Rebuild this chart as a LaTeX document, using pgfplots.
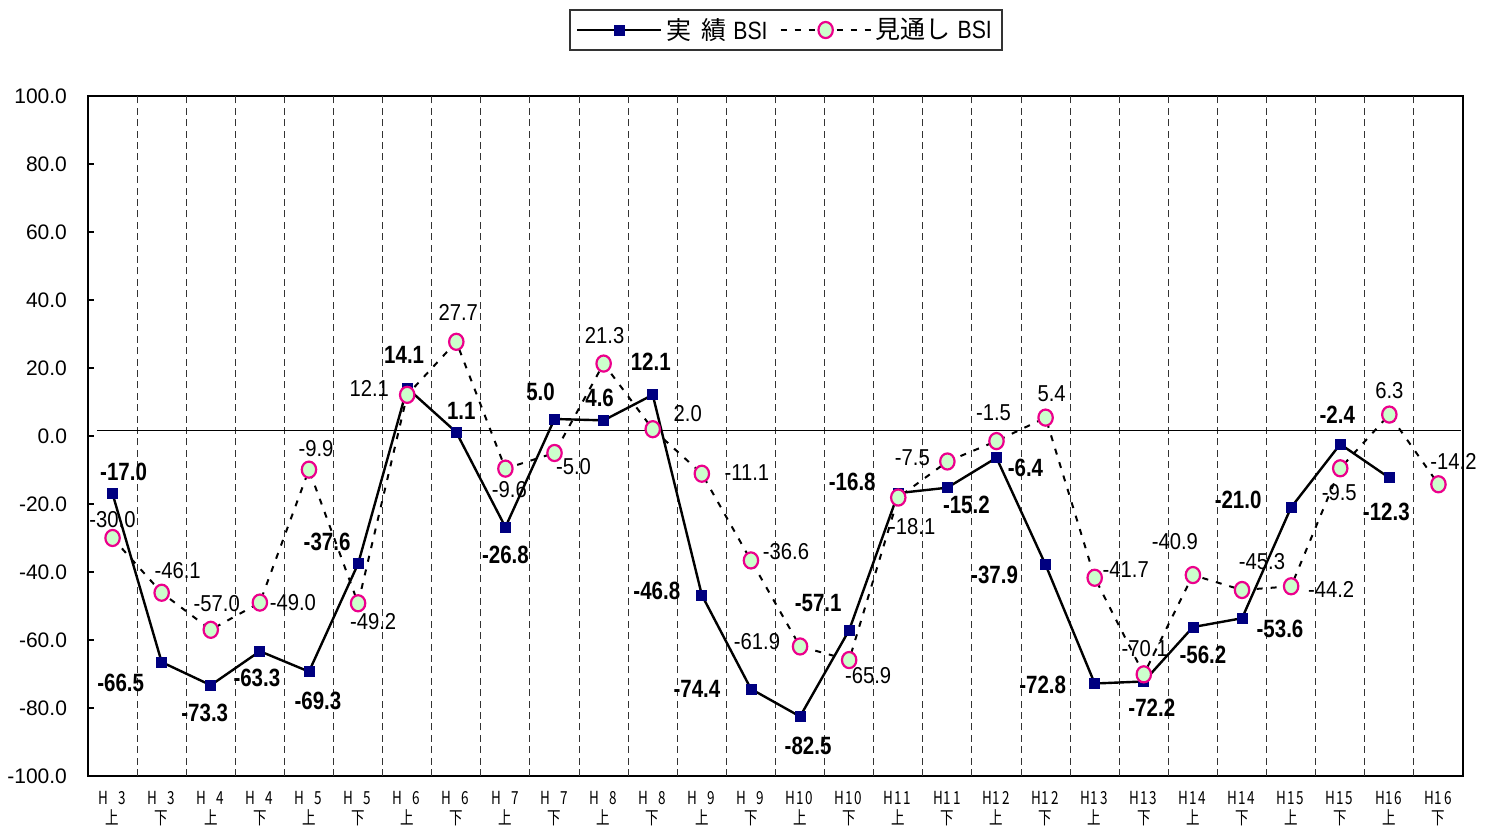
\documentclass[border=0pt]{standalone}
\usepackage{pgfplots}
\pgfplotsset{compat=1.18}
\usepackage{pgfplotstable}
\usepackage{fontspec}
\setmainfont{Liberation Sans}
\newfontfamily\cjk{Noto Sans CJK JP}
\newfontfamily\cjknarrow[FakeStretch=0.75]{Noto Sans CJK JP}
\newfontfamily\labfont[FakeStretch=0.88]{Liberation Sans}
\newfontfamily\blabfont[FakeStretch=0.82]{Liberation Sans}
\newfontfamily\legfont[FakeStretch=0.85]{Liberation Sans}

\definecolor{navy}{RGB}{0,0,128}
\definecolor{mint}{RGB}{204,255,204}

% fixed-width cells for the period labels
\newcommand\mc[1]{\makebox[4.7pt]{#1}}
\newcommand\xl[3]{\mc{H}\mc{#1}\mc{#2}\\#3}

% long legend samples with the marker in the middle
\pgfplotsset{
  actlegend/.style={legend image code/.code={\draw[mark repeat=2,mark phase=2,##1]
    plot coordinates {(0pt,0pt) (21pt,0pt) (42pt,0pt)};}},
  fcstlegend/.style={legend image code/.code={\draw[mark repeat=2,mark phase=2,##1]
    plot coordinates {(0pt,0pt) (22.5pt,0pt) (45pt,0pt)};}},
}

% actual BSI: value and label offset (pt)
\pgfplotstableread{
x y dx dy
0 -17.0 5.5 11
1 -66.5 -20.5 -10.5
2 -73.3 -3 -14
3 -63.3 -1.5 -13.5
4 -69.3 4.5 -14.5
5 -37.6 -15.5 11
6 14.1 -1.5 16.5
7 1.1 2.5 10.5
8 -26.8 0 -14
9 5.0 -7 13.5
10 4.6 -2 11
11 12.1 -1 16.5
12 -46.8 -22.5 2
13 -74.4 -27 0
14 -82.5 4 -14.5
15 -57.1 -15.5 13.5
16 -16.8 -23 5.5
17 -15.2 9.5 -8.5
18 -6.4 14.5 -5
19 -37.9 -25.5 -5
20 -72.8 -26 -0.5
21 -72.2 4 -13
22 -56.2 5 -14
23 -53.6 19 -5.5
24 -21.0 -26.5 4
25 -2.4 -1.5 14.5
26 -12.3 -1.5 -17
}\actual

% forecast BSI: value and label offset (pt)
\pgfplotstableread{
x y dx dy
0 -30.0 0 9
1 -46.1 8 11
2 -57.0 3 13
3 -49.0 16.5 0
4 -9.9 3.5 10.5
5 -49.2 7.5 -9
6 12.1 -19 3
7 27.7 1 14.5
8 -9.6 2 -10.5
9 -5.0 9.5 -7
10 21.3 0.5 14
11 2.0 17.5 8
12 -11.1 22.5 0.5
13 -36.6 17.5 4.5
14 -61.9 -21.5 2.5
15 -65.9 9.5 -8
16 -18.1 7 -14.5
17 -7.5 -17.5 2
18 -1.5 -1.5 14
19 5.4 3 12
20 -41.7 15.5 4
21 -70.1 0.5 13
22 -40.9 -9 16.5
23 -45.3 10 14
24 -44.2 20 -1.5
25 -9.5 -0.5 -12
26 6.3 0 12
27 -14.2 7.5 11.5
}\forecast

\begin{document}
\begin{tikzpicture}
\useasboundingbox (-44pt,-26.5pt) rectangle (703.5pt,388pt);
\begin{axis}[
  at={(0,0)}, anchor=south west,
  scale only axis, width=687.5pt, height=340pt,
  xmin=-0.5, xmax=27.5, ymin=-100, ymax=100,
  clip=false,
  axis line style={line width=0.7pt},
  xtick pos=bottom, ytick pos=left,
  tick align=inside, major tick length=3pt,
  tick style={black, line width=0.6pt},
  ytick={-100,-80,...,100},
  /pgf/number format/assume math mode=true,
  yticklabel={\pgfmathprintnumber[fixed,fixed zerofill,precision=1]{\tick}},
  yticklabel style={font=\fontsize{10.5}{12}\selectfont, xshift=-7pt},
  xtick={0,...,27},
  xtick style={draw=none},
  xticklabels={
    {\xl{}{3}{上}},{\xl{}{3}{下}},{\xl{}{4}{上}},{\xl{}{4}{下}},
    {\xl{}{5}{上}},{\xl{}{5}{下}},{\xl{}{6}{上}},{\xl{}{6}{下}},
    {\xl{}{7}{上}},{\xl{}{7}{下}},{\xl{}{8}{上}},{\xl{}{8}{下}},
    {\xl{}{9}{上}},{\xl{}{9}{下}},{\xl{1}{0}{上}},{\xl{1}{0}{下}},
    {\xl{1}{1}{上}},{\xl{1}{1}{下}},{\xl{1}{2}{上}},{\xl{1}{2}{下}},
    {\xl{1}{3}{上}},{\xl{1}{3}{下}},{\xl{1}{4}{上}},{\xl{1}{4}{下}},
    {\xl{1}{5}{上}},{\xl{1}{5}{下}},{\xl{1}{6}{上}},{\xl{1}{6}{下}}},
  xticklabel style={align=center, font=\cjknarrow\fontsize{9}{10}\selectfont, yshift=-4pt},
  extra x ticks={0.5,1.5,2.5,3.5,4.5,5.5,6.5,7.5,8.5,9.5,10.5,11.5,12.5,13.5,
                 14.5,15.5,16.5,17.5,18.5,19.5,20.5,21.5,22.5,23.5,24.5,25.5,26.5},
  extra x tick labels={},
  extra x tick style={grid=major, tick style={draw=black, line width=0.6pt}},
  major grid style={black!80, line width=0.5pt, dash pattern=on 3.5pt off 2.2pt},
  legend columns=2,
  legend style={at={(0.5076,1.097)}, anchor=center, draw=black!80, line width=0.7pt,
    inner xsep=3pt, inner ysep=2pt, font=\fontsize{12.5}{14}\selectfont,
    /tikz/every even column/.append style={column sep=4pt}},
]
% reference line near zero
\draw[black, line width=0.6pt] (axis cs:-0.32,1.5) -- (axis cs:27.45,1.5);

\addplot[black, line width=1.2pt, mark=square*,
  mark options={draw=navy, fill=navy, solid, line width=0.4pt}, mark size=2.5pt,
  actlegend]
  table[x=x,y=y]{\actual};
\addlegendentry{{\cjk 実}\hspace{5pt}{\cjk 績} {\legfont BSI}}

\addplot[black, line width=1pt, dash pattern=on 3pt off 4pt, mark=*,
  mark options={draw=magenta, fill=mint, solid, line width=1.1pt, yscale=1.12}, mark size=3.6pt,
  fcstlegend]
  table[x=x,y=y]{\forecast};
\addlegendentry{{\cjk 見通し} {\legfont BSI}}

% value labels
\addplot[draw=none, forget plot, point meta=y,
  visualization depends on={\thisrow{dx}\as\lx},
  visualization depends on={\thisrow{dy}\as\ly},
  nodes near coords={\pgfmathprintnumber[fixed,fixed zerofill,precision=1]{\pgfplotspointmeta}},
  every node near coord/.append style={anchor=center, inner sep=0pt,
    xshift=\lx pt, yshift=\ly pt, font=\blabfont\bfseries\fontsize{12.5}{14}\selectfont}]
  table[x=x,y=y]{\actual};
\addplot[draw=none, forget plot, point meta=y,
  visualization depends on={\thisrow{dx}\as\lx},
  visualization depends on={\thisrow{dy}\as\ly},
  nodes near coords={\pgfmathprintnumber[fixed,fixed zerofill,precision=1]{\pgfplotspointmeta}},
  every node near coord/.append style={anchor=center, inner sep=0pt,
    xshift=\lx pt, yshift=\ly pt, font=\labfont\fontsize{11.5}{13}\selectfont}]
  table[x=x,y=y]{\forecast};
\end{axis}
\end{tikzpicture}
\end{document}
